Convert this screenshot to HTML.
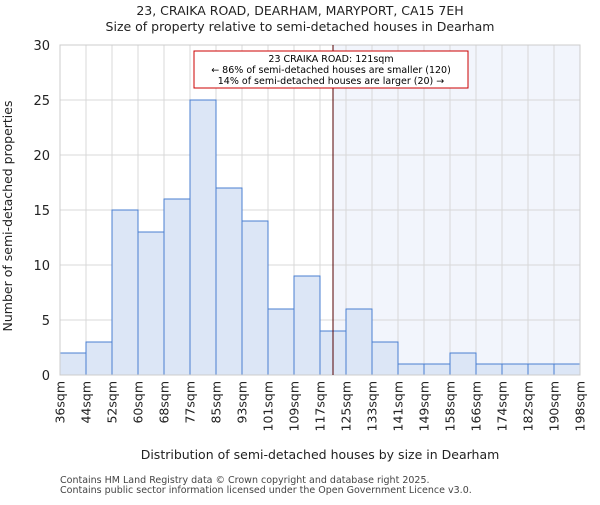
<!DOCTYPE html>
<html><head><meta charset="utf-8"><style>body{margin:0;background:#fff}svg{font-family:"DejaVu Sans","Liberation Sans",sans-serif}</style></head>
<body>
<svg id="c" width="600" height="500"></svg>
<script>
const categories=["36sqm","44sqm","52sqm","60sqm","68sqm","77sqm","85sqm","93sqm","101sqm","109sqm","117sqm","125sqm","133sqm","141sqm","149sqm","158sqm","166sqm","174sqm","182sqm","190sqm","198sqm"];
const counts=[2,3,15,13,16,25,17,14,6,9,4,6,3,1,1,2,1,1,1,1];
const yTicks=[0,5,10,15,20,25,30];
const markerBin=10.5;
const NS="http://www.w3.org/2000/svg";
const svg=document.getElementById('c');
const L=60,R=580,T=45,B=375,yMax=30;
const bw=(R-L)/counts.length;
const xs=i=>L+i*bw;
const ys=v=>B-(v/yMax)*(B-T);
function mk(t,a,p){const e=document.createElementNS(NS,t);for(const k in a)e.setAttribute(k,a[k]);(p||svg).appendChild(e);return e;}
const mx=xs(markerBin);
const sh=mk('rect',{x:mx,y:T,width:R-mx,height:B-T,fill:'#f2f5fc'});


yTicks.forEach(v=>{const g=mk('line',{x1:L,x2:R,y1:ys(v),y2:ys(v),stroke:'#d8d8d8'});

const t=mk('text',{x:L-10,y:ys(v)+5,'text-anchor':'end','font-size':13,fill:'#222'});t.textContent=v;
});
categories.forEach((c,i)=>{const g=mk('line',{x1:xs(i),x2:xs(i),y1:T,y2:B,stroke:'#d8d8d8'});

const t=mk('text',{transform:`translate(${xs(i)+4.5},${B+6}) rotate(-90)`,'text-anchor':'end','font-size':12.5,fill:'#222'});t.textContent=c;
});
counts.forEach((v,i)=>{const r=mk('rect',{x:xs(i),y:ys(v),width:bw,height:B-ys(v),fill:'#dce6f6',stroke:'#4a7fd0','stroke-width':1});
});
const ax=mk('rect',{x:L,y:T,width:R-L,height:B-T,fill:'none',stroke:'#ccc'});

const ml=mk('line',{x1:mx,x2:mx,y1:T,y2:B,stroke:'#500','stroke-width':1});

const box=mk('rect',{x:194,y:51,width:274,height:37,fill:'#fff',stroke:'#c00','stroke-width':1});

["23 CRAIKA ROAD: 121sqm","← 86% of semi-detached houses are smaller (120)","14% of semi-detached houses are larger (20) →"].forEach((s,i)=>{
const t=mk('text',{x:331,y:62+i*11,'text-anchor':'middle','font-size':9.5,fill:'#000'});t.textContent=s;
});
[["23, CRAIKA ROAD, DEARHAM, MARYPORT, CA15 7EH",15,12.5,'chart-title'],["Size of property relative to semi-detached houses in Dearham",31,12.5,'chart-subtitle']].forEach(a=>{
const t=mk('text',{x:300,y:a[1],'text-anchor':'middle','font-size':a[2],fill:'#222'});t.textContent=a[0];
});
const xt=mk('text',{x:320,y:459,'text-anchor':'middle','font-size':12.5,fill:'#222'});xt.textContent="Distribution of semi-detached houses by size in Dearham";

const yt=mk('text',{transform:'translate(12,216) rotate(-90)','text-anchor':'middle','font-size':12.5,fill:'#222'});yt.textContent="Number of semi-detached properties";

["Contains HM Land Registry data © Crown copyright and database right 2025.","Contains public sector information licensed under the Open Government Licence v3.0."].forEach((s,i)=>{
const t=mk('text',{x:60,y:483+i*10,'font-size':9.5,fill:'#444'});t.textContent=s;
});
</script>
</body></html>
